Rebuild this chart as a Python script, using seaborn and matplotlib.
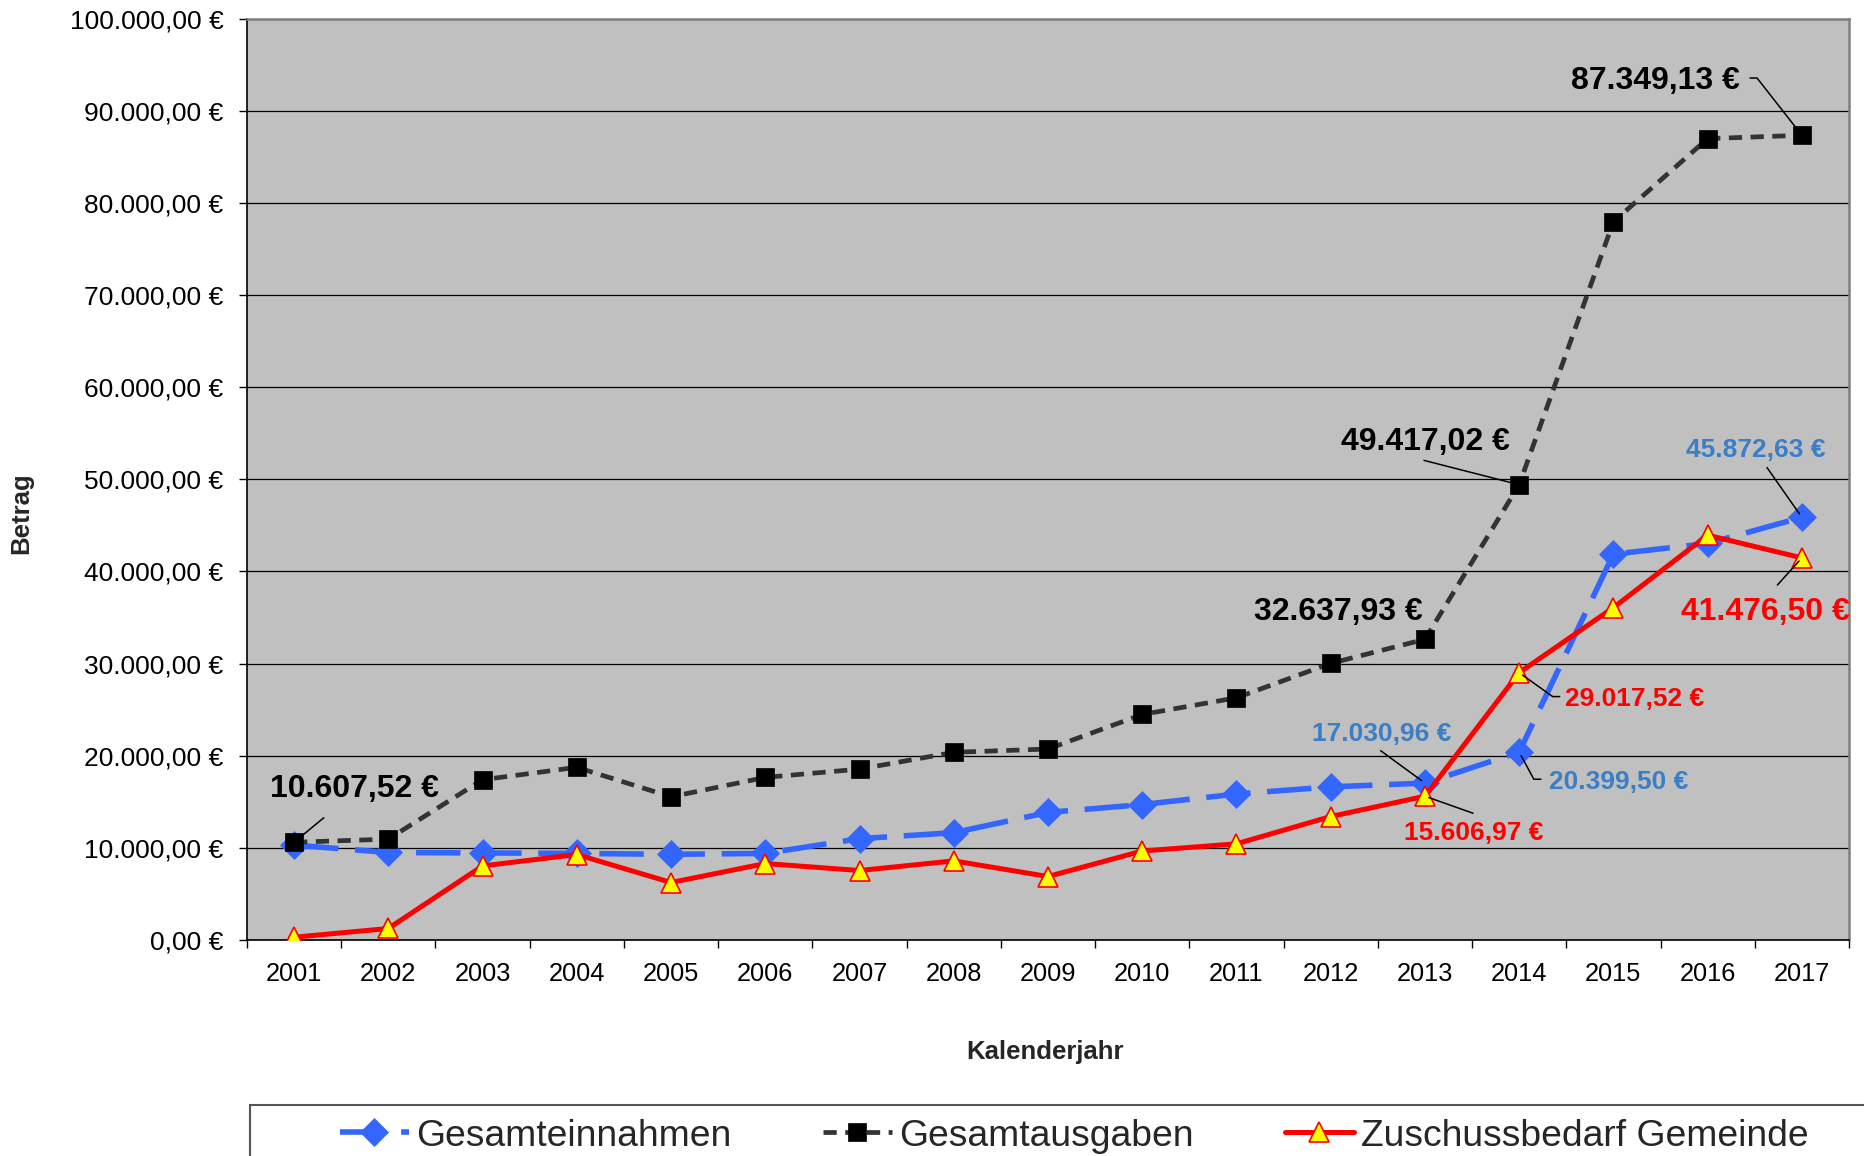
import matplotlib
matplotlib.use("Agg")
import matplotlib.pyplot as plt
from matplotlib.patches import Rectangle
from matplotlib.ticker import FixedLocator, FuncFormatter
import seaborn as sns

# ---------------- data ----------------
jahre = ["2001", "2002", "2003", "2004", "2005", "2006", "2007", "2008", "2009",
         "2010", "2011", "2012", "2013", "2014", "2015", "2016", "2017"]
gesamteinnahmen = [10300, 9500, 9450, 9400, 9300, 9400, 11000, 11650, 13850,
                   14700, 15850, 16620, 17030.96, 20399.50, 41880, 43040, 45872.63]
gesamtausgaben = [10607.52, 10950, 17400, 18740, 15540, 17650, 18550, 20370, 20730,
                  24480, 26290, 30030, 32637.93, 49417.02, 77960, 86980, 87349.13]
zuschussbedarf = [300, 1250, 8040, 9280, 6240, 8300, 7540, 8590, 6890,
                  9660, 10440, 13400, 15606.97, 29017.52, 36080, 43940, 41476.50]
serien_namen = ["Gesamteinnahmen", "Gesamtausgaben", "Zuschussbedarf Gemeinde"]
y_ticks = [0, 10000, 20000, 30000, 40000, 50000, 60000, 70000, 80000, 90000, 100000]


def de(v):
    s = f"{v:,.2f}"
    return s.replace(",", "X").replace(".", ",").replace("X", ".") + " €"


# ---------------- style ----------------
sns.set_style("white")
plt.rcParams["font.family"] = ["Liberation Sans", "DejaVu Sans"]

fig = plt.figure(figsize=(18.64, 11.56), dpi=100)
W, H = 1864, 1156
L, R, T, B = 247, 1849, 18.7, 940
ax = fig.add_axes([L / W, 1 - B / H, (R - L) / W, (B - T) / H])
ax.set_facecolor("#C0C0C0")

x = list(range(len(jahre)))

BLUE = "#3366FF"
LBLUE = "#3A7EC6"
RED = "#FF0000"
DARK = "#333333"

sns.lineplot(x=x, y=gesamteinnahmen, ax=ax, color=BLUE, lw=4.0,
             linestyle=(0, (8, 3)), marker="D", markersize=14,
             markerfacecolor=BLUE, markeredgecolor=BLUE, markeredgewidth=0.5,
             label=serien_namen[0], legend=False, zorder=3)
sns.lineplot(x=x, y=gesamtausgaben, ax=ax, color=DARK, lw=3.4,
             linestyle=(0, (2.8, 1.8)), marker="s", markersize=12.5,
             markerfacecolor="black", markeredgecolor="black", markeredgewidth=0.5,
             label=serien_namen[1], legend=False, zorder=4)
sns.lineplot(x=x, y=zuschussbedarf, ax=ax, color=RED, lw=3.6,
             linestyle="-", marker="^", markersize=14,
             markerfacecolor="#FFFF00", markeredgecolor=RED, markeredgewidth=1.2,
             label=serien_namen[2], legend=False, zorder=5)

# ---------------- axes ----------------
ax.set_xlim(-0.5, len(jahre) - 0.5)
ax.set_ylim(0, 100000)
ax.xaxis.set_major_locator(FixedLocator(x))
ax.set_xticklabels(jahre)
ax.xaxis.set_minor_locator(FixedLocator([i - 0.5 for i in range(len(jahre) + 1)]))
ax.yaxis.set_major_locator(FixedLocator(y_ticks))
ax.yaxis.set_major_formatter(FuncFormatter(lambda v, p: de(v)))
ax.tick_params(axis="x", which="major", length=0, pad=16, labelsize=18.3, colors="black")
ax.tick_params(axis="x", which="minor", length=6, width=1, direction="out", color="black", bottom=True)
ax.tick_params(axis="y", which="major", length=6, width=1, direction="out", pad=11,
               labelsize=19, color="black", left=True, labelcolor="black")
ax.grid(axis="y", color="black", lw=0.9)
ax.grid(axis="x", visible=False)
ax.set_axisbelow(True)
for side in ["left", "bottom"]:
    ax.spines[side].set_color("black")
    ax.spines[side].set_linewidth(1.2)
for side in ["right", "top"]:
    ax.spines[side].set_color("#808080")
    ax.spines[side].set_linewidth(1.8)
    ax.spines[side].set_visible(True)

ax.set_ylabel("Betrag", fontsize=18.5, fontweight="bold")
ax.set_xlabel("Kalenderjahr", fontsize=18.5, fontweight="bold")
ax.yaxis.set_label_coords(-0.1336, 0.463)
ax.xaxis.set_label_coords(0.498, -0.1085)

# ---------------- data labels ----------------
serien = {"ein": gesamteinnahmen, "aus": gesamtausgaben, "zus": zuschussbedarf}
farbe = {"ein": LBLUE, "aus": "black", "zus": RED}
# (series, year index, text centre x, y, leader start x, y, arm angle, font size)
beschriftungen = [
    ("aus", 0, 0.64, 16400, 0.315, 13270, None, 23),
    ("aus", 12, 11.08, 35600, None, None, None, 23),
    ("aus", 13, 12.0, 54050, 11.99, 52060, None, 23),
    ("aus", 16, 14.45, 93250, 15.45, 93560, 0, 23),
    ("ein", 12, 11.54, 22400, 11.53, 20550, None, 19),
    ("ein", 13, 14.06, 17150, 13.23, 17450, 180, 19),
    ("ein", 16, 15.51, 53200, 15.63, 51280, None, 19),
    ("zus", 12, 12.52, 11600, 12.51, 13760, None, 19),
    ("zus", 13, 14.22, 26150, 13.43, 26420, 180, 19),
    ("zus", 16, 15.61, 35650, 15.74, 38530, None, 23),
]
for key, i, tx, ty, lx, ly, arm, fs in beschriftungen:
    v = serien[key][i]
    ax.text(tx, ty, de(v), ha="center", va="center", fontsize=fs,
            fontweight="bold", color=farbe[key], clip_on=False, zorder=7)
    if lx is not None:
        if arm is None:
            cs = "arc3,rad=0"
        else:
            cs = f"arc,angleA={arm},armA=7,angleB=0,armB=0,rad=0"
        ax.annotate("", xy=(i, v), xytext=(lx, ly),
                    arrowprops=dict(arrowstyle="-", color="black", lw=1.1,
                                    shrinkA=0, shrinkB=3, connectionstyle=cs),
                    zorder=6)

# ---------------- legend ----------------
handles, labels = ax.get_legend_handles_labels()
if ax.get_legend() is not None:
    ax.get_legend().remove()
fig.legend(handles, labels, loc="center left",
           bbox_to_anchor=(340 / W, 1 - 1136 / H), bbox_transform=fig.transFigure,
           ncol=3, frameon=False, borderpad=0, borderaxespad=0,
           fontsize=26.8, handlelength=1.85, handletextpad=0.2, columnspacing=2.45)
fig.patches.append(Rectangle((250 / W, 1 - 1175 / H), (1880 - 250) / W, (1175 - 1105) / H,
                             transform=fig.transFigure, fill=False,
                             edgecolor="#555555", lw=1.5, clip_on=False))

fig.savefig("out.png", dpi=100, facecolor="white")
